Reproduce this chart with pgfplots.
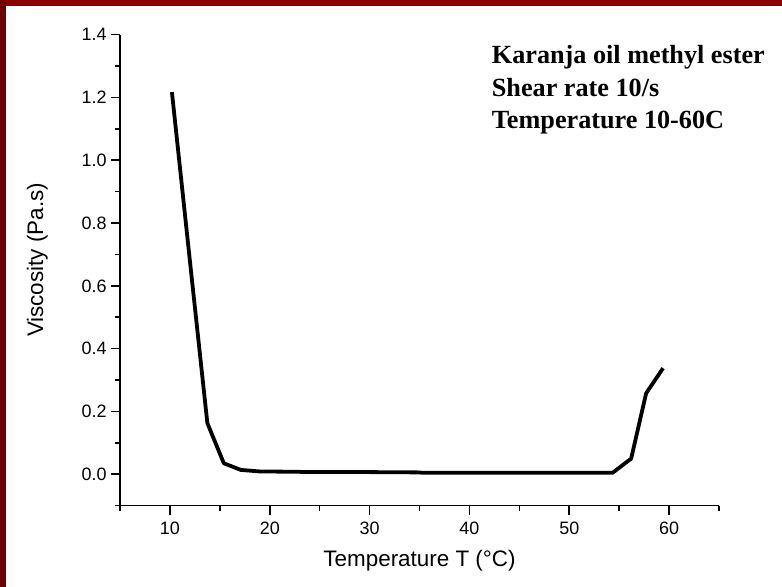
\documentclass[border=0pt]{standalone}
\usepackage{pgfplots}
\pgfplotsset{compat=1.18}
\usepackage{fontspec}
\setmainfont{Liberation Sans}
\newfontfamily\seriffont{Liberation Serif}
\definecolor{bordtop}{RGB}{139,0,0}
\definecolor{bordleft}{RGB}{112,0,0}
\begin{document}
\begin{tikzpicture}[x=1bp,y=1bp]
\useasboundingbox (0,0) rectangle (782,587);
\fill[white] (0,0) rectangle (782,587);
\fill[bordtop] (0,581) rectangle (782,587);
\fill[bordleft] (0,0) rectangle (6,587);
\begin{axis}[
  at={(120bp,81.3bp)}, anchor=south west,
  scale only axis, width=599bp, height=471bp,
  xmin=5, xmax=65, ymin=-0.1, ymax=1.4,
  axis lines*=left,
  axis line style={line width=1.6bp},
  xtick={10,20,30,40,50,60},
  ytick={0,0.2,0.4,0.6,0.8,1.0,1.2,1.4},
  minor xtick={5,15,25,35,45,55,65},
  minor ytick={-0.1,0.1,0.3,0.5,0.7,0.9,1.1,1.3},
  tick align=outside,
  major tick length=9bp, minor tick length=5bp,
  every tick/.style={line width=1.6bp, black},
  /pgf/number format/assume math mode=true,
  tick label style={font=\fontsize{18}{18}\selectfont},
  xticklabel style={yshift=-4bp},
  yticklabel style={xshift=-1bp, /pgf/number format/fixed, /pgf/number format/fixed zerofill, /pgf/number format/precision=1},
  xlabel={Temperature T (°C)}, ylabel={Viscosity (Pa.s)},
  label style={font=\fontsize{22.5}{22.5}\selectfont},
  xlabel style={at={(axis description cs:0.5,-0.117)}, anchor=center},
  ylabel style={at={(axis description cs:-0.138,0.5217)}, anchor=center},
  clip=false,
]
\addplot[black, line width=3.8bp, line join=round] coordinates {
 (10.2,1.217) (12.0,0.68) (13.75,0.163) (15.4,0.035) (17.1,0.014)
 (19,0.009) (23,0.008) (23.2,0.007) (30,0.007) (35,0.006) (35.2,0.005)
 (45,0.005) (54.35,0.005) (56.2,0.05) (57.7,0.258) (59.4,0.338)
};
\end{axis}
\node[anchor=base west, inner sep=0, font=\seriffont\bfseries\fontsize{26.3}{26}\selectfont] at (491.7,523.7) {Karanja oil methyl ester};
\node[anchor=base west, inner sep=0, font=\seriffont\bfseries\fontsize{26.3}{26}\selectfont] at (491.7,490.3) {Shear rate 10/s};
\node[anchor=base west, inner sep=0, font=\seriffont\bfseries\fontsize{26.3}{26}\selectfont] at (491.7,458) {Temperature 10-60C};
\end{tikzpicture}
\end{document}
